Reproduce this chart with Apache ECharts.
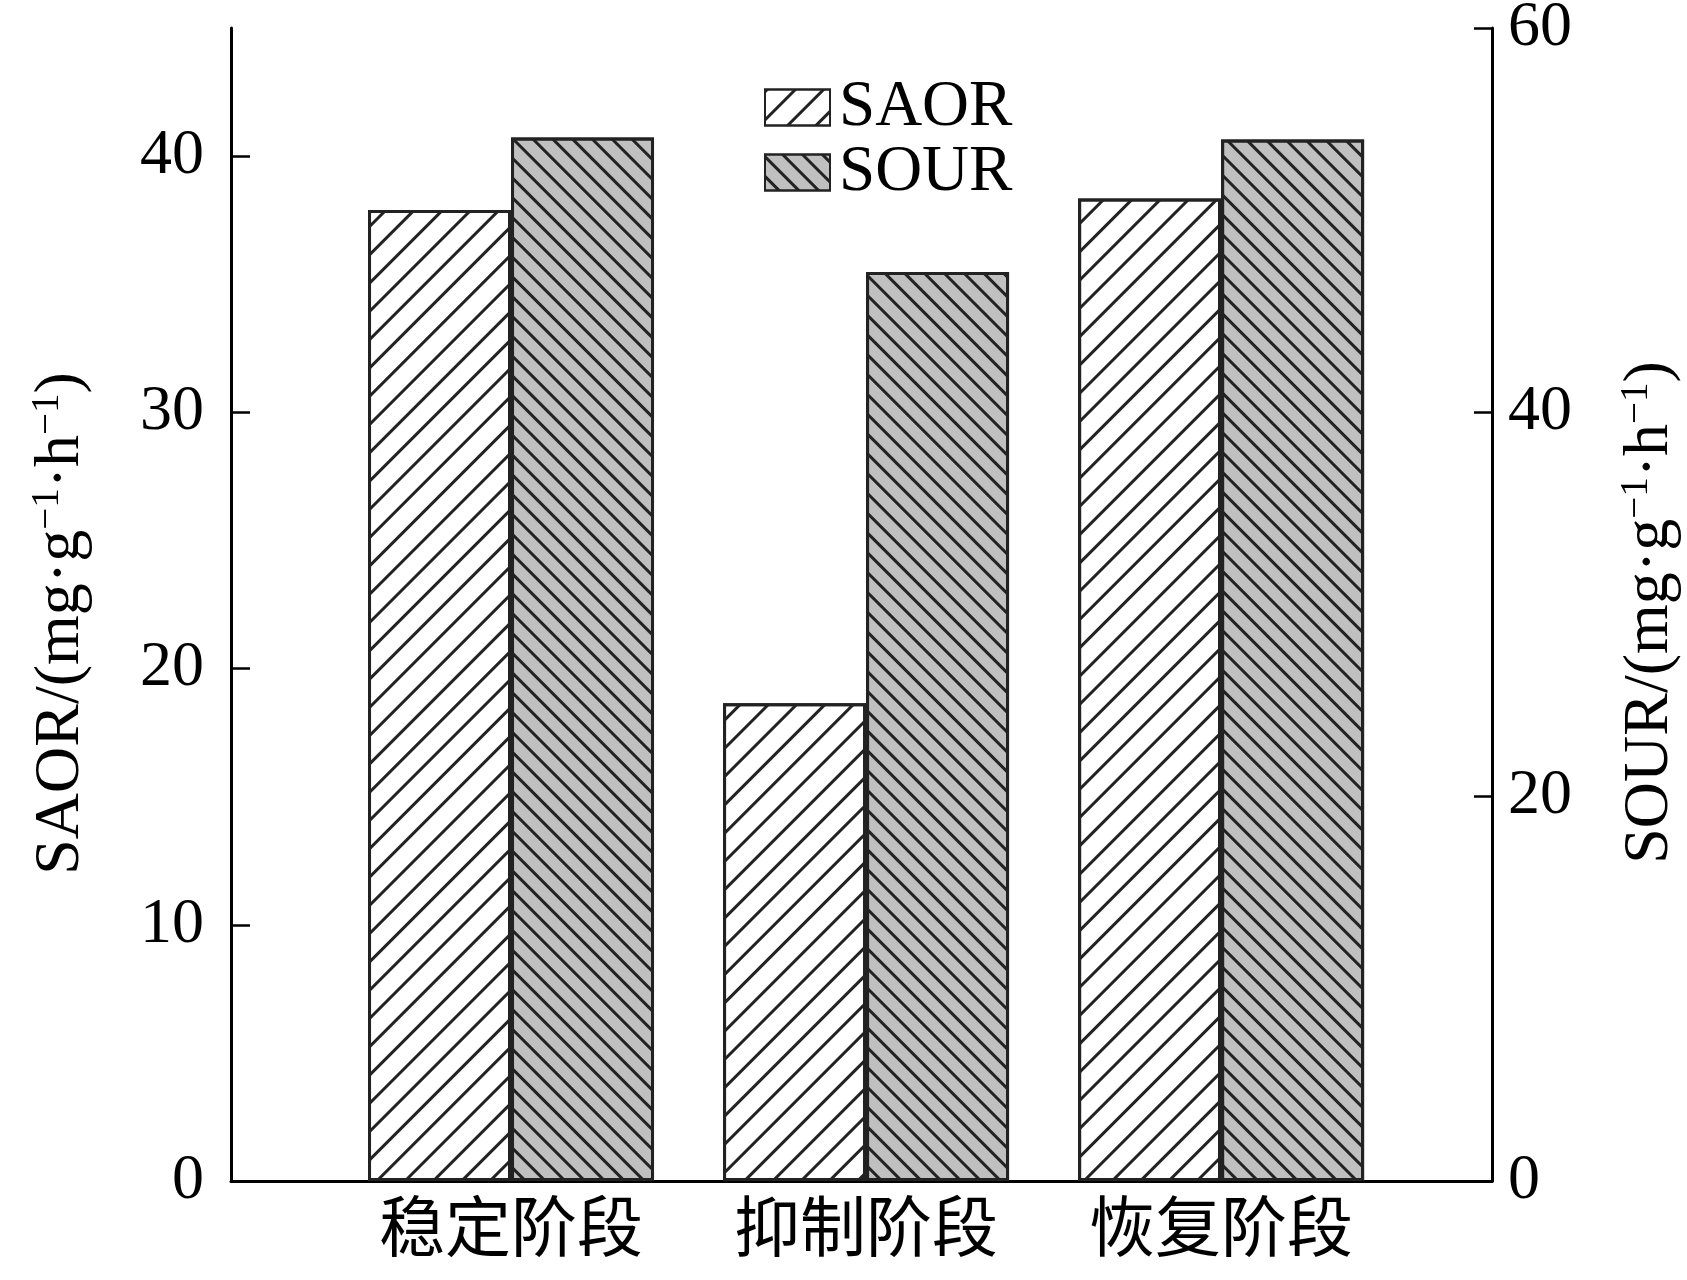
<!DOCTYPE html>
<html>
<head>
<meta charset="utf-8">
<script src="https://cdn.jsdelivr.net/npm/echarts@6/dist/echarts.min.js"></script>
<style>
  html, body { margin: 0; padding: 0; background: #fff; }
  #main { width: 1687px; height: 1280px; }
</style>
</head>
<body>
<div id="main"></div>
<script>
// 数据
var categories = ['稳定阶段', '抑制阶段', '恢复阶段'];
var saor = [37.9, 18.65, 38.35];   // 左轴
var sour = [54.3, 47.3, 54.2];     // 右轴
var leftTicks = [0, 10, 20, 30, 40];
var rightTicks = [0, 20, 40, 60];

var serif = '"Liberation Serif", "Times New Roman", "Noto Sans CJK SC", serif';
var ink = '#222';

var chart = echarts.init(document.getElementById('main'));

function toPoints(arr) {
    return arr.map(function (v, i) { return [i, v]; });
}

var nameRich = {
    sup: { fontSize: 39, fontFamily: serif, color: '#000', verticalAlign: 'top', lineHeight: 39 }
};

var option = {
    backgroundColor: '#fff',
    animation: false,
    grid: { left: 231, right: 195, top: 28, bottom: 99, outerBoundsMode: 'none' },
    legend: {
        orient: 'vertical',
        left: 759,
        top: 70,
        itemWidth: 65,
        itemHeight: 36,
        itemGap: 0,
        icon: 'rect',
        textStyle: { fontFamily: serif, fontSize: 65, color: '#000', padding: [0, 0, 0, 4] },
        data: ['SAOR', 'SOUR']
    },
    xAxis: {
        type: 'value',
        min: -0.7887,
        max: 2.763,
        splitLine: { show: false },
        axisLine: { show: true, onZero: false, lineStyle: { color: '#000', width: 3 } },
        axisTick: { show: false },
        axisLabel: {
            customValues: [0, 1, 2],
            formatter: function (v) { return categories[Math.round(v)] || ''; },
            fontFamily: serif,
            fontSize: 66,
            color: '#000',
            margin: 20
        }
    },
    yAxis: [
        {
            type: 'value',
            min: 0,
            max: 45,
            interval: 10,
            position: 'left',
            name: 'SAOR/(mg·g{sup|−1}·h{sup|−1})',
            nameLocation: 'middle',
            nameRotate: 90,
            nameGap: 137,
            nameTextStyle: { fontFamily: serif, fontSize: 64, color: '#000', lineHeight: 66, rich: nameRich, padding: [0, 38, 0, 0] },
            splitLine: { show: false },
            axisLine: { show: true, onZero: false, lineStyle: { color: '#000', width: 3 } },
            axisTick: { show: true, inside: true, length: 19, customValues: leftTicks, lineStyle: { color: '#000', width: 2.5 } },
            axisLabel: { customValues: leftTicks, fontFamily: serif, fontSize: 64, color: '#000', margin: 27 }
        },
        {
            type: 'value',
            min: 0,
            max: 60,
            interval: 20,
            position: 'right',
            name: 'SOUR/(mg·g{sup|−1}·h{sup|−1})',
            nameLocation: 'middle',
            nameRotate: 90,
            nameGap: 125,
            nameTextStyle: { fontFamily: serif, fontSize: 64, color: '#000', lineHeight: 66, rich: nameRich, padding: [0, 16, 0, 0] },
            splitLine: { show: false },
            axisLine: { show: true, onZero: false, lineStyle: { color: '#000', width: 3 } },
            axisTick: { show: true, inside: true, length: 18, customValues: rightTicks, lineStyle: { color: '#000', width: 2.5 } },
            axisLabel: { customValues: rightTicks, fontFamily: serif, fontSize: 64, color: '#000', margin: 16 }
        }
    ],
    series: [
        {
            name: 'SAOR',
            type: 'bar',
            yAxisIndex: 0,
            barWidth: 143,
            barGap: '0%',
            data: toPoints(saor),
            itemStyle: {
                color: '#fff',
                borderColor: ink,
                borderWidth: 3,
                decal: {
                    symbol: 'rect',
                    symbolSize: 1,
                    color: ink,
                    dashArrayX: [20, 0],
                    dashArrayY: [3, 17],
                    rotation: -Math.PI / 4
                }
            }
        },
        {
            name: 'SOUR',
            type: 'bar',
            yAxisIndex: 1,
            barWidth: 143,
            barGap: '0%',
            data: toPoints(sour),
            itemStyle: {
                color: '#c0c0c0',
                borderColor: ink,
                borderWidth: 3,
                decal: {
                    symbol: 'rect',
                    symbolSize: 1,
                    color: ink,
                    dashArrayX: [20, 0],
                    dashArrayY: [3, 10.1],
                    rotation: Math.PI / 4
                }
            }
        }
    ]
};

chart.setOption(option);
</script>
</body>
</html>
